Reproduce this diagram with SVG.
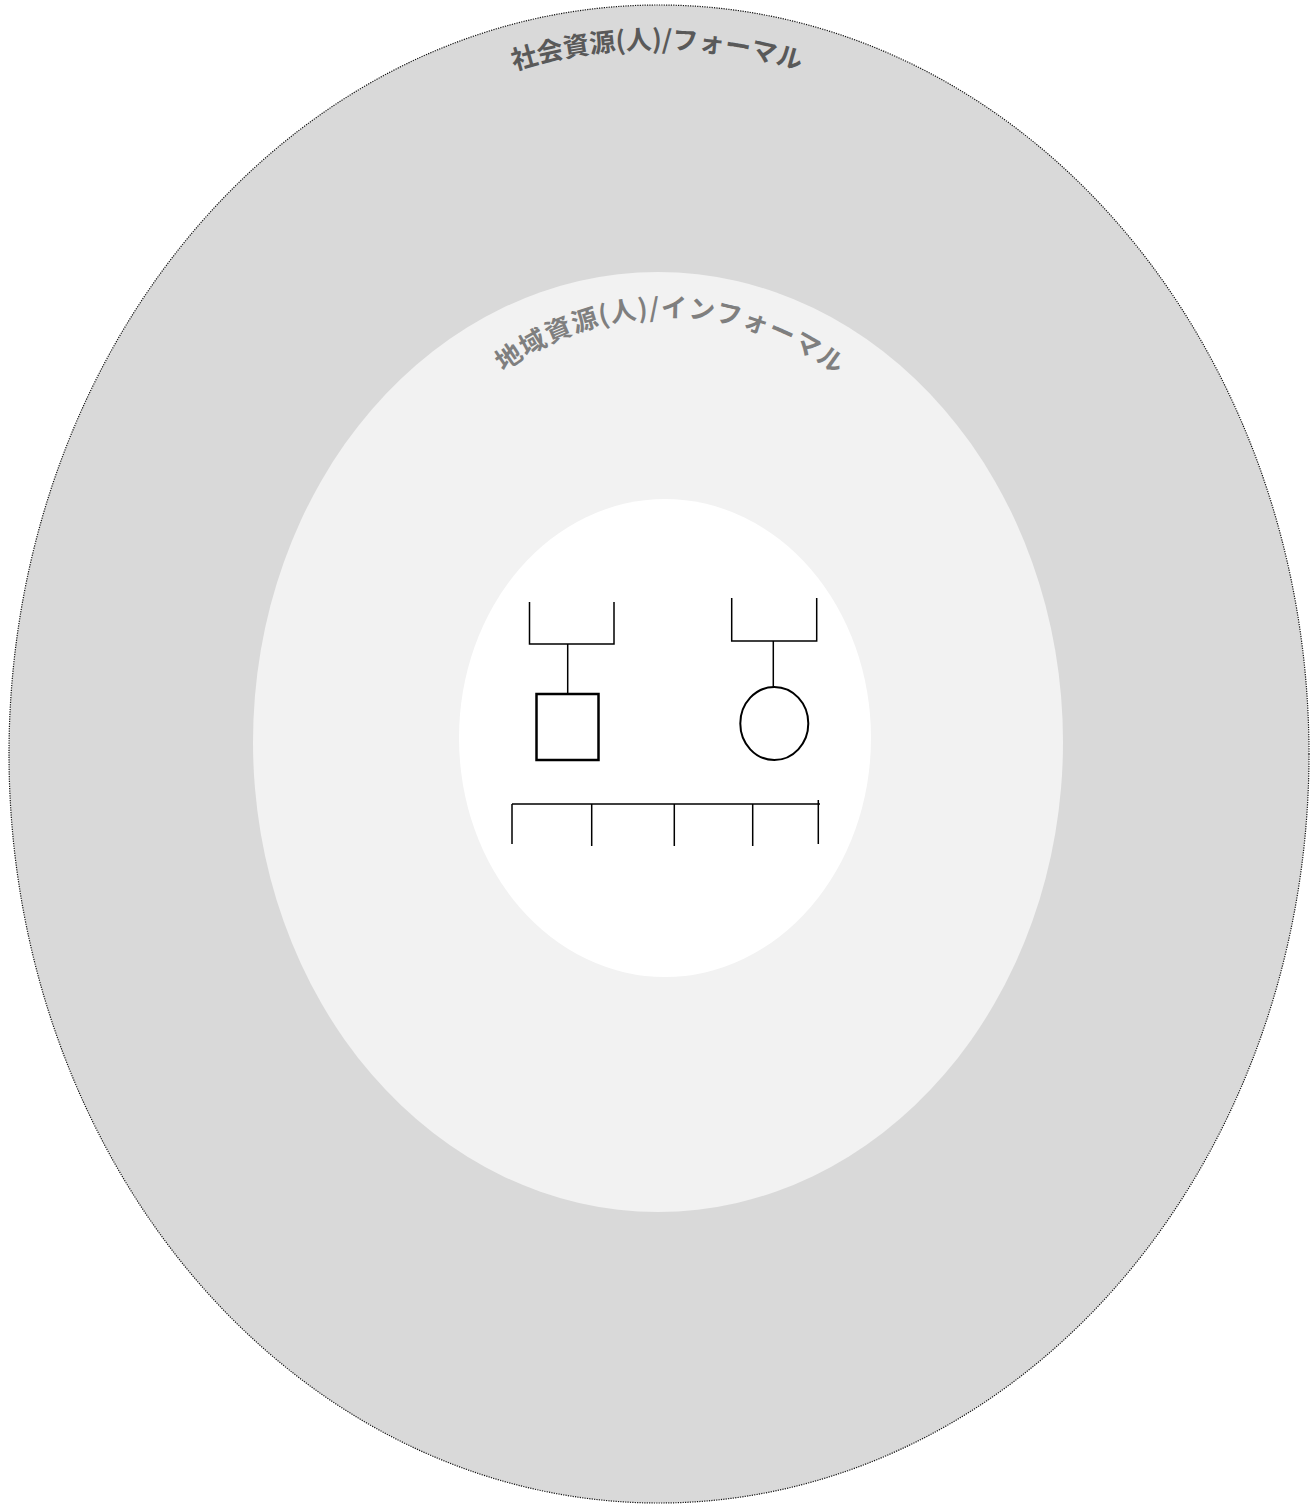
<svg xmlns="http://www.w3.org/2000/svg" width="1314" height="1505" viewBox="0 0 1314 1505">
<style>
.ln{stroke:#000;stroke-width:1.5;fill:none;}
.jp{font-family:"Noto Sans CJK JP","Noto Sans",sans-serif;font-size:26px;}
</style>
<defs>
<path id="arcOuter" d="M 237.8 291 A 484 484 0 0 1 1076.2 291"/>
<path id="arcMid" d="M 432.4 453 A 272 272 0 0 1 903.6 453"/>
</defs>
<rect width="1314" height="1505" fill="#ffffff"/>
<g id="ring-formal">
<ellipse cx="659" cy="754" rx="650" ry="749" fill="#d9d9d9" stroke="#111" stroke-width="1.2" stroke-dasharray="1.2 1.2"/>
<text class="jp" font-weight="bold" fill="#595959"><textPath href="#arcOuter" startOffset="50%" text-anchor="middle">社会資源(人)/フォーマル</textPath></text>
</g>
<g id="ring-informal">
<ellipse cx="658" cy="742" rx="405" ry="470" fill="#f2f2f2"/>
<text class="jp" font-weight="600" fill="#7f7f7f" letter-spacing="1.2"><textPath href="#arcMid" startOffset="50.5%" text-anchor="middle">地域資源(人)/インフォーマル</textPath></text>
</g>
<g id="ring-family">
<ellipse cx="665" cy="738" rx="206" ry="239" fill="#ffffff"/>
</g>
<g id="connectors">
<path class="ln" d="M529.5 602 V644 H614 V602 M567.7 644 V693"/>
<path class="ln" d="M731.7 598 V641 H816.7 V598 M773.3 641 V687"/>
<path class="ln" d="M512 804 H820 M512 804 V844 M591.7 804 V846 M674.3 804 V846 M752.7 804 V846 M818.3 800 V844"/>
</g>
<g id="father">
<rect x="536.5" y="694" width="62" height="66" fill="#ffffff" stroke="#000" stroke-width="2.5"/>
</g>
<g id="mother">
<ellipse cx="774.3" cy="723.5" rx="34" ry="36.5" fill="#ffffff" stroke="#000" stroke-width="2"/>
</g>
</svg>
